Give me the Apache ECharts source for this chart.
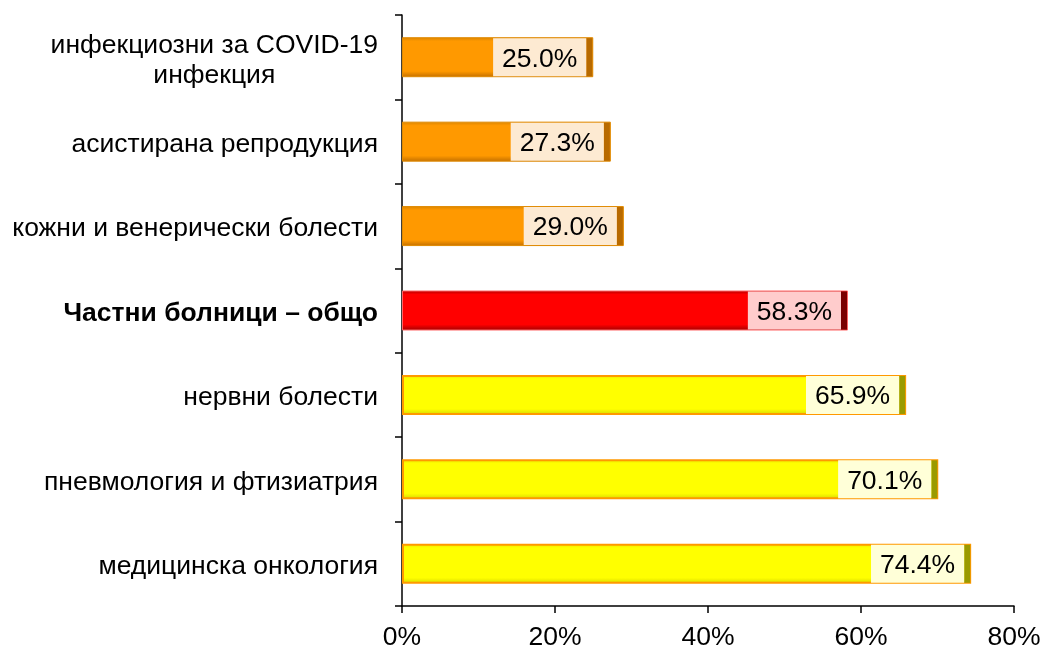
<!DOCTYPE html>
<html>
<head>
<meta charset="utf-8">
<script src="https://cdn.jsdelivr.net/npm/echarts@6/dist/echarts.min.js"></script>
<style>
  html, body { margin: 0; padding: 0; background: #fff; }
  #chart { width: 1045px; height: 649px; }
</style>
</head>
<body>
<div id="chart"></div>
<script>
// категории отгоре надолу
var categories = [
  'инфекциозни за COVID-19\nинфекция',
  'асистирана репродукция',
  'кожни и венерически болести',
  'Частни болници – общо',
  'нервни болести',
  'пневмология и фтизиатрия',
  'медицинска онкология'
]
var values = [25.0, 27.3, 29.0, 58.3, 65.9, 70.1, 74.4]
var totalName = 'Частни болници – общо'
var xTicks = [0, 20, 40, 60, 80]

var totalValue = values[categories.indexOf(totalName)]

// цветове: под общото - оранжево, общото - червено, над общото - жълто
var palette = {
  o: { top: '#d98400', body: '#ff9900', bottom: '#c26f00', border: '#e08a00', bw: 1, bg: '#fdead2', stub: '#b86a00' },
  r: { top: '#b00000', body: '#ff0000', bottom: '#a00000', border: '#ff6666', bw: 1, bg: '#ffcccc', stub: '#7a0000' },
  y: { top: '#e6e600', body: '#ffff00', bottom: '#d6d600', border: '#ff9900', bw: 2, bg: '#ffffd8', stub: '#9a9a00' }
}
function group(i) {
  if (categories[i] === totalName) return 'r'
  return values[i] < totalValue ? 'o' : 'y'
}

var font = 'Arial, "Liberation Sans", sans-serif'
var fs = 26.5
var rich = {}
Object.keys(palette).forEach(function (k) {
  var p = palette[k]
  rich['t' + k] = {
    backgroundColor: p.bg, height: 34, lineHeight: 34, padding: [4, 9, 0, 9],
    fontSize: fs, color: '#000', fontFamily: font
  }
  rich['s' + k] = { backgroundColor: p.stub, width: 6, height: 38 }
})

var seriesData = values.map(function (v, i) {
  var p = palette[group(i)]
  return {
    value: v,
    itemStyle: {
      color: {
        type: 'linear', x: 0, y: 0, x2: 0, y2: 1,
        colorStops: [
          { offset: 0, color: p.top },
          { offset: 0.1, color: p.body },
          { offset: 0.85, color: p.body },
          { offset: 1, color: p.bottom }
        ]
      },
      borderColor: p.border,
      borderWidth: p.bw
    }
  }
})

var chart = echarts.init(document.getElementById('chart'))
chart.setOption({
  animation: false,
  grid: { left: 402, right: 31, top: 15, bottom: 43, outerBoundsMode: 'none', containLabel: false },
  xAxis: {
    type: 'value',
    min: xTicks[0],
    max: xTicks[xTicks.length - 1],
    interval: 20,
    splitLine: { show: false },
    axisLine: { show: true, lineStyle: { color: '#000', width: 1.5 } },
    axisTick: { show: true, length: 7, lineStyle: { color: '#000', width: 1.5 } },
    axisLabel: {
      margin: 18, fontSize: fs, color: '#000', fontFamily: font,
      formatter: function (v) { return v + '%' }
    }
  },
  yAxis: {
    type: 'category',
    data: categories,
    inverse: true,
    axisLine: { show: true, lineStyle: { color: '#000', width: 1.5 } },
    axisTick: { show: true, length: 7, lineStyle: { color: '#000', width: 1.5 } },
    axisLabel: {
      margin: 24,
      fontSize: fs,
      color: '#000',
      fontFamily: font,
      padding: [6, 0, 0, 0],
      formatter: function (v) {
        var st = v === totalName ? 'b' : 'c'
        return v.split('\n').map(function (line) { return '{' + st + '|' + line + '}' }).join('\n')
      },
      rich: {
        c: { align: 'center', fontSize: fs, lineHeight: 30, color: '#000', fontFamily: font },
        b: { align: 'center', fontSize: fs, lineHeight: 30, color: '#000', fontFamily: font, fontWeight: 'bold' }
      }
    }
  },
  series: [{
    type: 'bar',
    data: seriesData,
    barWidth: 40,
    label: {
      show: true,
      position: 'insideRight',
      distance: 1,
      formatter: function (p) {
        var g = group(p.dataIndex)
        return '{t' + g + '|' + p.value.toFixed(1) + '%}{s' + g + '|}'
      },
      rich: rich
    }
  }]
})
</script>
</body>
</html>
